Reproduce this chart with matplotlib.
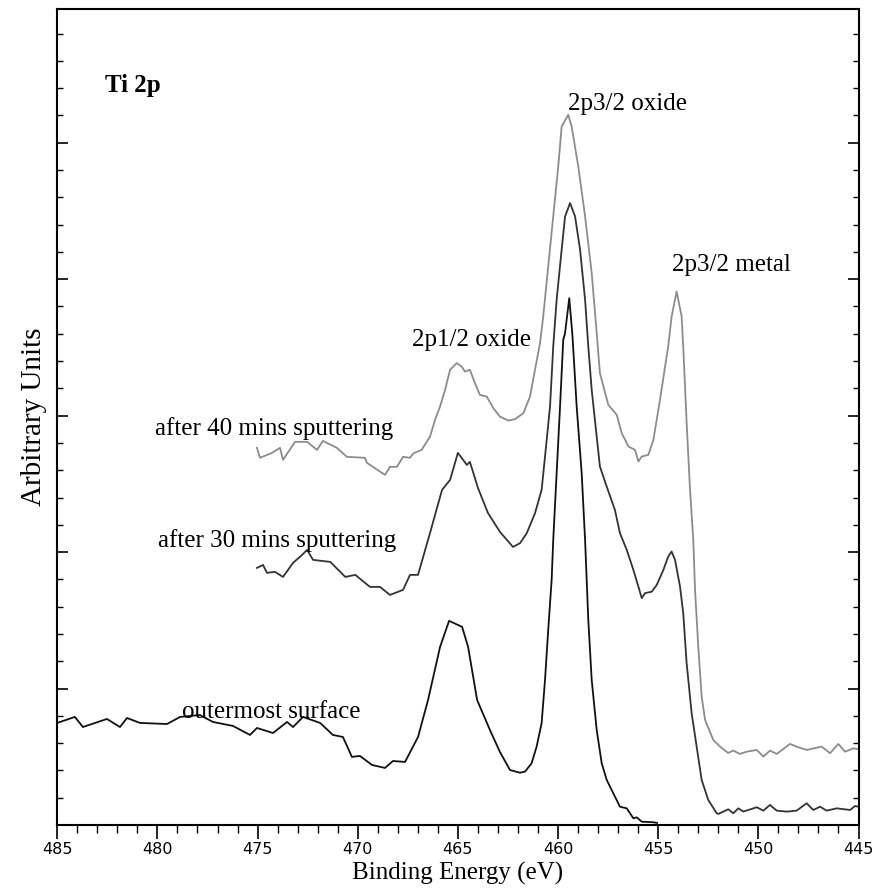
import matplotlib
matplotlib.use("Agg")
import matplotlib.pyplot as plt
from matplotlib.ticker import MultipleLocator, NullFormatter

# ---------------- data (binding energy eV, arbitrary intensity) ----------------
be_40 = [475.03, 474.88, 474.28, 473.88, 473.73, 473.13, 472.53, 472.03, 471.74, 471.04,
         470.54, 469.64, 469.54, 468.64, 468.39, 468.04, 467.74, 467.39, 467.21, 466.81,
         466.39, 466.14, 465.89, 465.64, 465.39, 465.06, 464.81, 464.65, 464.40, 464.15,
         463.90, 463.56, 463.23, 462.90, 462.48, 462.15, 461.73, 461.40, 461.15, 460.90,
         460.74, 460.49, 460.24, 459.99, 459.82, 459.49, 459.32, 458.99, 458.65, 458.32,
         458.07, 457.91, 457.49, 457.07, 456.82, 456.49, 456.16, 455.99, 455.82, 455.49,
         455.24, 454.91, 454.58, 454.50, 454.33, 454.08, 453.83, 453.75, 453.58, 453.41,
         453.25, 453.16, 453.00, 452.83, 452.66, 452.25, 451.91, 451.51, 451.25, 450.92,
         450.58, 450.08, 449.75, 449.42, 449.08, 448.42, 448.09, 447.59, 446.84, 446.42,
         446.01, 445.67, 445.26, 445.01]
int_40 = [2.764, 2.691, 2.727, 2.764, 2.676, 2.808, 2.808, 2.749, 2.815, 2.764,
          2.698, 2.691, 2.654, 2.566, 2.625, 2.625, 2.698, 2.691, 2.725, 2.749,
          2.847, 2.969, 3.067, 3.189, 3.336, 3.385, 3.360, 3.323, 3.336, 3.238,
          3.152, 3.140, 3.055, 2.993, 2.964, 2.974, 3.018, 3.140, 3.336, 3.532,
          3.727, 4.093, 4.460, 4.826, 5.119, 5.205, 5.119, 4.826, 4.460, 4.045,
          3.605, 3.312, 3.079, 3.006, 2.872, 2.774, 2.749, 2.664, 2.700, 2.713,
          2.823, 3.116, 3.433, 3.507, 3.727, 3.910, 3.727, 3.507, 2.945, 2.456,
          2.089, 1.723, 1.307, 0.941, 0.770, 0.623, 0.574, 0.528, 0.545, 0.521,
          0.537, 0.550, 0.501, 0.545, 0.521, 0.594, 0.574, 0.550, 0.574, 0.526,
          0.594, 0.537, 0.562, 0.555]

be_30 = [475.03, 474.73, 474.53, 474.13, 473.73, 473.23, 472.78, 472.53, 472.23, 471.37,
         470.62, 470.12, 469.39, 468.89, 468.39, 467.74, 467.39, 466.99, 466.39, 465.79,
         465.39, 465.00, 464.55, 464.40, 464.00, 463.50, 462.90, 462.25, 461.90, 461.56,
         461.15, 460.82, 460.65, 460.40, 460.24, 460.07, 459.82, 459.65, 459.40, 459.15,
         458.90, 458.65, 458.49, 458.32, 457.91, 457.57, 457.16, 456.91, 456.57, 456.24,
         455.99, 455.82, 455.66, 455.32, 455.07, 454.74, 454.50, 454.33, 454.16, 453.91,
         453.75, 453.58, 453.33, 453.08, 452.83, 452.50, 452.08, 452.00, 451.50, 451.25,
         451.00, 450.75, 450.08, 449.75, 449.42, 449.08, 448.58, 448.09, 447.59, 447.26,
         446.92, 446.59, 446.09, 445.42, 445.17, 445.01]
int_30 = [1.884, 1.906, 1.848, 1.855, 1.818, 1.921, 1.979, 2.016, 1.943, 1.928,
          1.818, 1.833, 1.745, 1.745, 1.686, 1.723, 1.833, 1.833, 2.141, 2.456,
          2.529, 2.727, 2.639, 2.661, 2.471, 2.287, 2.148, 2.038, 2.065, 2.139,
          2.285, 2.456, 2.700, 3.067, 3.507, 3.849, 4.216, 4.460, 4.558, 4.460,
          4.216, 3.849, 3.507, 3.189, 2.627, 2.480, 2.309, 2.139, 2.016, 1.870,
          1.747, 1.662, 1.699, 1.710, 1.760, 1.870, 1.967, 2.004, 1.943, 1.747,
          1.552, 1.185, 0.819, 0.574, 0.330, 0.183, 0.086, 0.081, 0.115, 0.086,
          0.122, 0.098, 0.130, 0.105, 0.147, 0.105, 0.098, 0.105, 0.159, 0.110,
          0.134, 0.105, 0.122, 0.110, 0.139, 0.134]

be_surf = [485.00, 484.12, 483.72, 482.52, 481.87, 481.52, 480.87, 479.52, 478.87, 477.88,
           477.23, 476.23, 475.38, 475.03, 474.23, 473.53, 473.23, 472.73, 471.88, 471.24,
           470.74, 470.29, 469.89, 469.29, 468.64, 468.24, 467.64, 466.99, 466.49, 465.89,
           465.44, 464.79, 464.49, 464.04, 463.40, 462.90, 462.40, 461.90, 461.65, 461.32,
           461.07, 460.82, 460.65, 460.49, 460.32, 460.24, 460.07, 459.90, 459.74, 459.65,
           459.44, 459.28, 459.07, 458.82, 458.65, 458.57, 458.49, 458.32, 458.07, 457.82,
           457.57, 457.24, 456.91, 456.57, 456.24, 456.07, 455.82, 455.24, 455.06]
int_surf = [0.748, 0.792, 0.718, 0.777, 0.718, 0.784, 0.748, 0.740, 0.792, 0.806,
            0.755, 0.726, 0.660, 0.711, 0.674, 0.755, 0.718, 0.792, 0.748, 0.660,
            0.645, 0.499, 0.506, 0.440, 0.418, 0.469, 0.462, 0.645, 0.916, 1.305,
            1.496, 1.452, 1.305, 0.916, 0.696, 0.535, 0.403, 0.383, 0.391, 0.452,
            0.574, 0.746, 1.063, 1.430, 1.796, 2.089, 2.578, 3.067, 3.556, 3.605,
            3.861, 3.585, 3.067, 2.578, 2.089, 1.796, 1.503, 1.063, 0.696, 0.452,
            0.330, 0.232, 0.134, 0.122, 0.049, 0.056, 0.024, 0.020, 0.015]

x_ticks = [485, 480, 475, 470, 465, 460, 455, 450, 445]
x_ticklabels = ["485", "480", "475", "470", "465", "460", "455", "450", "445"]

# annotations: (text, energy, intensity)
ann_labels = ["2p3/2 oxide", "2p3/2 metal", "2p1/2 oxide",
              "after 40 mins sputtering", "after 30 mins sputtering", "outermost surface"]
ann_x = [459.50, 454.33, 467.31, 480.12, 479.97, 478.79]
ann_y = [5.242, 4.062, 3.512, 2.859, 2.040, 0.782]

# ---------------- figure ----------------
serif = ["Liberation Serif", "DejaVu Serif"]
fig = plt.figure(figsize=(8.73, 8.94), dpi=100)
ax = fig.add_axes([0.0656, 0.0772, 0.9178, 0.9127])

ax.plot(be_40, int_40, color="#8c8c8c", lw=1.3)
ax.plot(be_30, int_30, color="#333333", lw=1.3)
ax.plot(be_surf, int_surf, color="#111111", lw=1.3)

ax.set_xlim(485, 445)
ax.set_ylim(0, 5.98)

ax.set_xticks(x_ticks)
ax.set_xticklabels(x_ticklabels, fontsize=11.5, family="DejaVu Sans")
ax.xaxis.set_minor_locator(MultipleLocator(1))
ax.yaxis.set_major_locator(MultipleLocator(1))
ax.yaxis.set_minor_locator(MultipleLocator(0.2))
ax.yaxis.set_major_formatter(NullFormatter())

ax.tick_params(axis="x", which="both", direction="out", top=False, bottom=True, pad=2)
ax.tick_params(axis="x", which="major", length=10, width=1.2)
ax.tick_params(axis="x", which="minor", length=6, width=1.0)
ax.tick_params(axis="y", which="both", direction="in", left=True, right=True)
ax.tick_params(axis="y", which="major", length=8, width=1.2)
ax.tick_params(axis="y", which="minor", length=4, width=1.0)

for s in ax.spines.values():
    s.set_linewidth(1.5)
    s.set_color("black")

ax.set_xlabel("Binding Energy (eV)", family=serif, fontsize=18, labelpad=4)
ax.set_ylabel("Arbitrary Units", family=serif, fontsize=21, labelpad=4)

ax.text(482.62, 5.37, "Ti 2p", family=serif, fontsize=18, fontweight="bold",
        ha="left", va="baseline")
for lab, xx, yy in zip(ann_labels, ann_x, ann_y):
    ax.text(xx, yy, lab, family=serif, fontsize=18, ha="left", va="baseline")

fig.savefig("out.png", dpi=100)
